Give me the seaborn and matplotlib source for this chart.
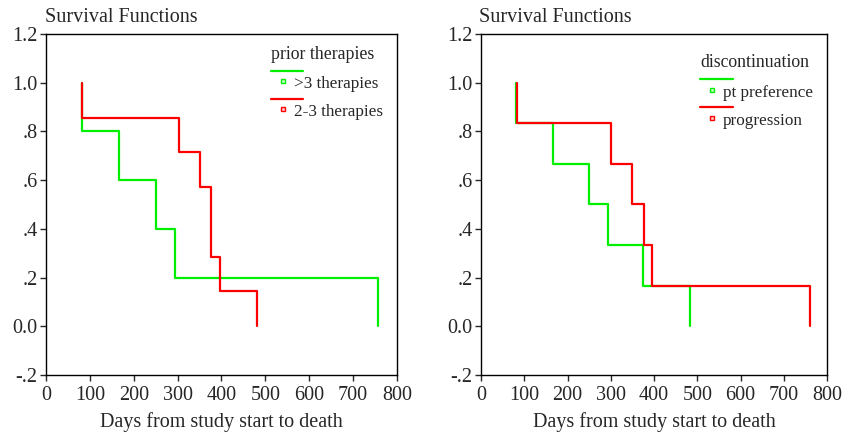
import pandas as pd
import matplotlib.pyplot as plt
import seaborn as sns

# -----------------------------
# Data
# -----------------------------
# left panel: prior therapies
gt3_days = [82, 167, 250, 293, 757]
gt3_surv = [0.80, 0.60, 0.40, 0.20, 0.00]
two3_days = [81, 304, 351, 376, 397, 480]
two3_surv = [0.857, 0.714, 0.571, 0.286, 0.143, 0.00]

# right panel: discontinuation
pref_days = [82, 166, 250, 293, 375, 483]
pref_surv = [0.833, 0.667, 0.50, 0.333, 0.167, 0.00]
prog_days = [84, 300, 350, 376, 395, 760]
prog_surv = [0.833, 0.667, 0.50, 0.333, 0.167, 0.00]

left_groups = [">3 therapies", "2-3 therapies"]
right_groups = ["pt preference", "progression"]
left_title = "prior therapies"
right_title = "discontinuation"

yticks = [-0.2, 0.0, 0.2, 0.4, 0.6, 0.8, 1.0, 1.2]
ytick_labels = ["-.2", "0.0", ".2", ".4", ".6", ".8", "1.0", "1.2"]
xticks = [0, 100, 200, 300, 400, 500, 600, 700, 800]

GREEN = "#00ee00"
RED = "#ff0000"


def km_frame(groups, days_list, surv_list):
    rows = []
    for g, days, surv in zip(groups, days_list, surv_list):
        # curve starts at 1.0 at the first event time
        rows.append((g, days[0], 1.0))
        for d, s in zip(days, surv):
            rows.append((g, d, s))
    return pd.DataFrame(rows, columns=["group", "days", "survival"])


left_df = km_frame(left_groups, [gt3_days, two3_days], [gt3_surv, two3_surv])
right_df = km_frame(right_groups, [pref_days, prog_days], [pref_surv, prog_surv])

# -----------------------------
# Plot
# -----------------------------
sns.set_style("ticks")
plt.rcParams["font.family"] = ["Liberation Serif", "DejaVu Serif"]
plt.rcParams["font.size"] = 14

fig = plt.figure(figsize=(8.57, 4.33), dpi=100)
ax_l = fig.add_axes([0.0537, 0.134, 0.4095, 0.7875])
ax_r = fig.add_axes([0.5613, 0.134, 0.4037, 0.7875])


def draw_panel(ax, df, groups, leg_title, leg_x, leg_y):
    sns.lineplot(
        data=df, x="days", y="survival", hue="group",
        hue_order=groups, palette=[GREEN, RED],
        estimator=None, sort=False, drawstyle="steps-post",
        linewidth=1.6, legend=False, ax=ax,
    )
    ax.set_xlim(0, 800)
    ax.set_ylim(-0.2, 1.2)
    ax.set_xticks(xticks)
    ax.set_yticks(yticks)
    ax.set_yticklabels(ytick_labels)
    ax.tick_params(direction="out", length=4, width=1, labelsize=14.5)
    ax.tick_params(axis="x", pad=4)
    ax.tick_params(axis="y", pad=2)
    for sp in ax.spines.values():
        sp.set_visible(True)
        sp.set_color("black")
        sp.set_linewidth(1)
    ax.set_xlabel("Days from study start to death", fontsize=14.5, labelpad=5)
    ax.set_ylabel("")

    # SPSS-style legend
    t = ax.transAxes
    ax.text(leg_x, leg_y, leg_title, transform=t, fontsize=12.8, va="center")
    for i, (g, c) in enumerate(zip(groups, [GREEN, RED])):
        y0 = leg_y - 0.048 - i * 0.082
        ax.plot([leg_x, leg_x + 0.093], [y0, y0], color=c, lw=1.6, transform=t)
        ax.plot([leg_x + 0.035], [y0 - 0.03], marker="s", ms=3.5, mec=c,
                mfc="#ccffcc" if c == GREEN else "#ffcccc", mew=1, transform=t)
        ax.text(leg_x + 0.066, y0 - 0.04, g, transform=t, fontsize=12.3, va="center")


draw_panel(ax_l, left_df, left_groups, left_title, 0.64, 0.94)
draw_panel(ax_r, right_df, right_groups, right_title, 0.634, 0.915)

fig.text(0.0525, 0.96, "Survival Functions", fontsize=14.5, va="center")
fig.text(0.5595, 0.96, "Survival Functions", fontsize=14.5, va="center")

plt.savefig("out.png", dpi=100)
